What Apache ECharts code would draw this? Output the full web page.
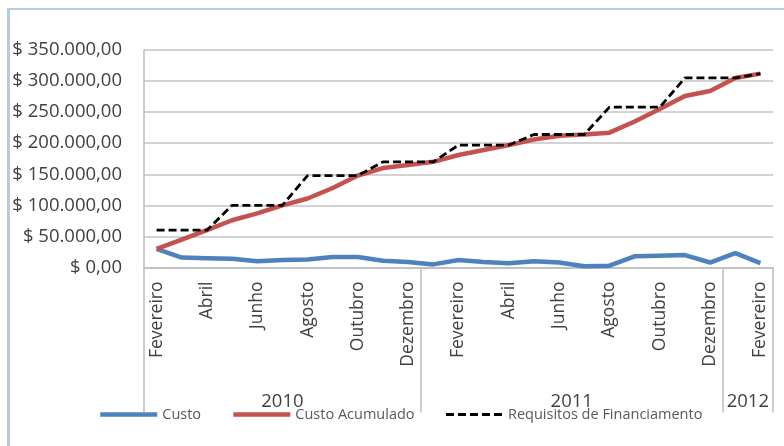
<!DOCTYPE html>
<html>
<head>
<meta charset="utf-8">
<script src="https://cdn.jsdelivr.net/npm/echarts@6/dist/echarts.min.js"></script>
<style>
  html, body { margin: 0; padding: 0; background: #fff; }
  #frame {
    position: absolute; left: 7px; top: 8px; width: 777px; height: 438px;
    border-top: 2px solid #b4cbe8; border-left: 3px solid #b4cbe8; box-sizing: border-box;
  }
  #chart { position: absolute; left: 0; top: 0; width: 784px; height: 446px; }
</style>
</head>
<body>
<div id="frame"></div>
<div id="chart"></div>
<script>
// Months per year (series begins in February 2010)
const months2010 = ['Fevereiro', 'Março', 'Abril', 'Maio', 'Junho', 'Julho', 'Agosto', 'Setembro', 'Outubro', 'Novembro', 'Dezembro'];
const months2011 = ['Janeiro', 'Fevereiro', 'Março', 'Abril', 'Maio', 'Junho', 'Julho', 'Agosto', 'Setembro', 'Outubro', 'Novembro', 'Dezembro'];
const months2012 = ['Janeiro', 'Fevereiro'];
const yearLabels = ['2010', '2011', '2012'];

// Monthly cost
const custo = [30000, 16000, 15000, 14000, 10000, 12000, 13000, 17000, 17000, 11000, 9000,
               5000, 12000, 9000, 7000, 10000, 8000, 2000, 3000, 18000, 19000, 20000, 8000, 23000,
               7000];
// Accumulated cost
const custoAcumulado = [30000, 45000, 60000, 76000, 87000, 100000, 111000, 128000, 148000, 160000, 165000,
                        170000, 181000, 189000, 197000, 206000, 212000, 214000, 217000, 235000, 255000, 276000, 284000, 305000,
                        312000];
// Funding requirements (quarterly steps)
const requisitos = [60000, 60000, 60000, 100000, 100000, 100000, 148000, 148000, 148000, 170000, 170000,
                    170000, 197000, 197000, 197000, 214000, 214000, 214000, 258000, 258000, 258000, 305000, 305000, 305000,
                    312000];
const yTicks = { min: 0, max: 350000, interval: 50000 };

const yearGroups = [months2010, months2011, months2012];
const categories = [].concat(...yearGroups);
const groupStarts = [];
{ let s = 0; yearGroups.forEach(g => { groupStarts.push(s); s += g.length; }); }

function money(v) {
  const int = Math.round(v).toString().replace(/\B(?=(\d{3})+(?!\d))/g, '.');
  return '$ ' + int + ',00';
}

const FONT = '"Open Sans"';
const chart = echarts.init(document.getElementById('chart'), null, { renderer: 'canvas' });

const option = {
  backgroundColor: 'transparent',
  animation: false,
  grid: { left: 144, right: 11, top: 50, bottom: 178.5, containLabel: false },
  legend: {
    left: 98, top: 407, padding: 0,
    itemWidth: 57, itemHeight: 14, itemGap: 30,
    itemStyle: { opacity: 0 },
    lineStyle: { width: 'inherit' },
    textStyle: { fontFamily: FONT, fontSize: 14.5, color: '#595959' },
    data: ['Custo', 'Custo Acumulado', 'Requisitos de Financiamento']
  },
  xAxis: {
    type: 'category',
    data: categories,
    boundaryGap: true,
    axisLine: { show: true, lineStyle: { color: '#bcbcbc', width: 1.5 } },
    axisTick: {
      show: true,
      length: 145,
      interval: (idx) => groupStarts.includes(idx),
      lineStyle: { color: '#bcbcbc', width: 1.5 }
    },
    axisLabel: {
      interval: 1, rotate: 90, margin: 14,
      fontFamily: FONT, fontSize: 17.5, color: '#404040'
    },
    splitLine: { show: false }
  },
  yAxis: {
    type: 'value',
    min: yTicks.min, max: yTicks.max, interval: yTicks.interval,
    axisLine: { show: true, lineStyle: { color: '#bcbcbc', width: 1.5 } },
    axisTick: { show: false },
    axisLabel: { margin: 22, fontFamily: FONT, fontSize: 18.5, color: '#404040', formatter: money },
    splitLine: { show: true, lineStyle: { color: '#d3d3d3', width: 2 } }
  },
  series: [
    {
      name: 'Custo', type: 'line', data: custo, symbol: 'none',
      lineStyle: { color: '#4f81bd', width: 4.5 }, itemStyle: { color: '#4f81bd' }
    },
    {
      name: 'Custo Acumulado', type: 'line', data: custoAcumulado, symbol: 'none',
      lineStyle: { color: '#c4524f', width: 4.5 }, itemStyle: { color: '#c4524f' }
    },
    {
      name: 'Requisitos de Financiamento', type: 'line', data: requisitos, symbol: 'none',
      lineStyle: { color: '#000', width: 2.8, type: [8, 4] }, itemStyle: { color: '#000' }
    }
  ]
};
chart.setOption(option);

// Year captions centred under each group of months
const y0 = chart.convertToPixel({ yAxisIndex: 0 }, 0);
const yearText = yearGroups.map((g, k) => {
  const a = chart.convertToPixel({ xAxisIndex: 0 }, groupStarts[k]);
  const b = chart.convertToPixel({ xAxisIndex: 0 }, groupStarts[k] + g.length - 1);
  return {
    type: 'text',
    x: (a + b) / 2, y: y0 + 134,
    style: {
      text: yearLabels[k], fontFamily: FONT, fontSize: 18.5, fill: '#404040',
      align: 'center', verticalAlign: 'middle'
    }
  };
});
chart.setOption({ graphic: yearText });
</script>
</body>
</html>
